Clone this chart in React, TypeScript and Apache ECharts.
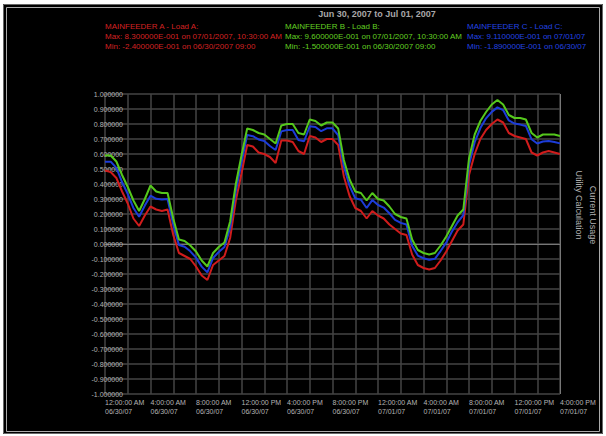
import React, { useEffect, useRef } from "react";
import * as echarts from "echarts";

const titleText = "Jun 30, 2007 to Jul 01, 2007";

const xTickLabels = [
  "12:00:00 AM\n06/30/07",
  "4:00:00 AM\n06/30/07",
  "8:00:00 AM\n06/30/07",
  "12:00:00 PM\n06/30/07",
  "4:00:00 PM\n06/30/07",
  "8:00:00 PM\n06/30/07",
  "12:00:00 AM\n07/01/07",
  "4:00:00 AM\n07/01/07",
  "8:00:00 AM\n07/01/07",
  "12:00:00 PM\n07/01/07",
  "4:00:00 PM\n07/01/07",
];

const seriesNames = ["MAINFEEDER A - Load A:", "MAINFEEDER B - Load B:", "MAINFEEDER C - Load C:"];
const maxTexts = [
  "Max: 8.300000E-001 on 07/01/2007, 10:30:00 AM",
  "Max: 9.600000E-001 on 07/01/2007, 10:30:00 AM",
  "Max: 9.110000E-001 on 07/01/07",
];
const minTexts = [
  "Min: -2.400000E-001 on 06/30/2007 09:00",
  "Min: -1.500000E-001 on 06/30/2007 09:00",
  "Min: -1.890000E-001 on 06/30/07",
];

const redValues = [
  0.49, 0.48, 0.44, 0.35, 0.27, 0.17, 0.12, 0.19, 0.25, 0.23,
  0.22, 0.23, 0.06, -0.06, -0.08, -0.1, -0.15, -0.21, -0.24, -0.14,
  -0.11, -0.08, 0.04, 0.29, 0.47, 0.66, 0.65, 0.61, 0.6, 0.58,
  0.54, 0.69, 0.69, 0.68, 0.62, 0.6, 0.72, 0.71, 0.68, 0.7,
  0.7, 0.66, 0.45, 0.32, 0.24, 0.22, 0.17, 0.22, 0.19, 0.17,
  0.13, 0.1, 0.07, 0.06, -0.07, -0.14, -0.16, -0.17, -0.16, -0.11,
  -0.05, 0.02, 0.09, 0.13, 0.46, 0.6, 0.7, 0.76, 0.8, 0.83,
  0.81, 0.74, 0.72, 0.71, 0.7, 0.61, 0.59, 0.61, 0.62, 0.61, 0.6,
];

const greenValues = [
  0.59, 0.59, 0.55, 0.46, 0.38, 0.29, 0.22, 0.3, 0.39, 0.35,
  0.34, 0.34, 0.17, 0.03, 0.02, -0.01, -0.05, -0.11, -0.15, -0.06,
  -0.02, 0.01, 0.15, 0.4, 0.59, 0.77, 0.76, 0.74, 0.73, 0.7,
  0.67, 0.79, 0.8, 0.8, 0.74, 0.73, 0.83, 0.82, 0.79, 0.81,
  0.81, 0.77, 0.56, 0.43, 0.35, 0.34, 0.29, 0.34, 0.3, 0.29,
  0.25, 0.2, 0.18, 0.17, 0.03, -0.04, -0.06, -0.07, -0.06, -0.01,
  0.05, 0.12, 0.19, 0.23, 0.57, 0.73, 0.82, 0.88, 0.93, 0.96,
  0.93, 0.86, 0.84, 0.84, 0.83, 0.74, 0.71, 0.73, 0.73, 0.73, 0.72,
];

const blueValues = [
  0.549, 0.549, 0.507, 0.413, 0.333, 0.24, 0.182, 0.256, 0.322, 0.301,
  0.297, 0.3, 0.129, -0.007, -0.018, -0.049, -0.091, -0.151, -0.189, -0.093,
  -0.053, -0.02, 0.107, 0.353, 0.543, 0.727, 0.719, 0.697, 0.687, 0.653,
  0.627, 0.751, 0.76, 0.76, 0.693, 0.685, 0.785, 0.78, 0.752, 0.771,
  0.771, 0.725, 0.517, 0.387, 0.305, 0.295, 0.24, 0.293, 0.26, 0.243,
  0.205, 0.161, 0.141, 0.13, -0.011, -0.077, -0.095, -0.105, -0.099, -0.047,
  0.009, 0.083, 0.145, 0.192, 0.527, 0.679, 0.773, 0.838, 0.881, 0.911,
  0.893, 0.824, 0.803, 0.796, 0.787, 0.698, 0.67, 0.683, 0.686, 0.68, 0.671,
];

const colors = ["#d01c1c", "#55c81c", "#1c3cd8"];
const textColors = ["#d42222", "#62d022", "#2244e4"];

const categories = redValues.map((_, i) => String(i));

export default function App() {
  const ref = useRef<HTMLDivElement>(null);
  useEffect(() => {
    document.body.style.margin = "0";
    const chart = echarts.init(ref.current!, null, { renderer: "svg" });
    const font = "Liberation Sans";
    const legendX = [105, 285, 467];
    const legendGraphics: any[] = [];
    for (let i = 0; i < 3; i++) {
      const lines = [seriesNames[i], maxTexts[i], minTexts[i]];
      lines.forEach((t, j) => {
        legendGraphics.push({
          type: "text",
          x: legendX[i],
          y: 26.5 + j * 10,
          style: { text: t, fill: textColors[i], font: `8px "${font}"`, verticalAlign: "middle" },
          z: 10,
        });
      });
    }
    chart.setOption({
      animation: false,
      backgroundColor: "transparent",
      graphic: [
        { type: "rect", shape: { x: 3, y: 4, width: 600, height: 430 }, style: { fill: "#000" }, z: -10 },
        { type: "rect", shape: { x: 3.5, y: 4.5, width: 599, height: 429 }, style: { fill: "none", stroke: "#666", lineWidth: 1 }, z: -9 },
        { type: "rect", shape: { x: 6.5, y: 7.5, width: 593, height: 424 }, style: { fill: "none", stroke: "#aaa", lineWidth: 1 }, z: -9 },
        {
          type: "text",
          x: 377,
          y: 14,
          style: { text: titleText, fill: "#a8a8a8", font: `bold 9px "${font}"`, align: "center", verticalAlign: "middle" },
        },
        ...legendGraphics,
        {
          type: "text",
          x: 579,
          y: 205,
          rotation: -Math.PI / 2,
          style: { text: "Utility Calculation", fill: "#b0b0b0", font: `9px "${font}"`, align: "center", verticalAlign: "middle" },
        },
        {
          type: "text",
          x: 593,
          y: 215,
          rotation: -Math.PI / 2,
          style: { text: "Current Usage", fill: "#b0b0b0", font: `9px "${font}"`, align: "center", verticalAlign: "middle" },
        },
      ],
      grid: { left: 105, right: 46, top: 94, bottom: 42, containLabel: false },
      xAxis: {
        type: "category",
        data: categories,
        boundaryGap: false,
        axisLine: { show: true, lineStyle: { color: "#777", width: 1 } },
        axisTick: { show: false },
        axisLabel: {
          interval: 7,
          align: "left",
          color: "#b4b4b4",
          fontSize: 7,
          fontFamily: font,
          lineHeight: 9,
          margin: 4,
          formatter: (_v: string, idx: number) => xTickLabels[Math.round(idx / 8)] ?? "",
        },
        splitLine: { show: true, interval: 3, lineStyle: { color: "#444", width: 1.5 } },
      },
      yAxis: {
        type: "value",
        min: -1,
        max: 1,
        interval: 0.1,
        axisLine: { show: false },
        axisTick: { show: false },
        axisLabel: {
          color: "#b4b4b4",
          fontSize: 7,
          fontFamily: font,
          margin: -18,
          formatter: (v: number) => (Math.abs(v) < 1e-9 ? 0 : v).toFixed(6),
        },
        splitLine: { show: true, lineStyle: { color: "#444", width: 1.5 } },
      },
      series: [
        { name: seriesNames[0], type: "line", data: redValues, showSymbol: false, lineStyle: { color: colors[0], width: 2 }, itemStyle: { color: colors[0] }, z: 3 },
        { name: seriesNames[2], type: "line", data: blueValues, showSymbol: false, lineStyle: { color: colors[2], width: 2 }, itemStyle: { color: colors[2] }, z: 4 },
        { name: seriesNames[1], type: "line", data: greenValues, showSymbol: false, lineStyle: { color: colors[1], width: 2 }, itemStyle: { color: colors[1] }, z: 5 },
        {
          type: "line",
          data: [],
          markLine: {
            silent: true,
            symbol: "none",
            label: { show: false },
            lineStyle: { color: "#777", type: "solid", width: 1 },
            data: [{ xAxis: categories[categories.length - 1] }],
          },
        },
      ],
    });
    return () => chart.dispose();
  }, []);
  return (
    <div
      ref={ref}
      style={{ position: "fixed", left: 0, top: 0, width: 606, height: 436, background: "#fff" }}
    />
  );
}
